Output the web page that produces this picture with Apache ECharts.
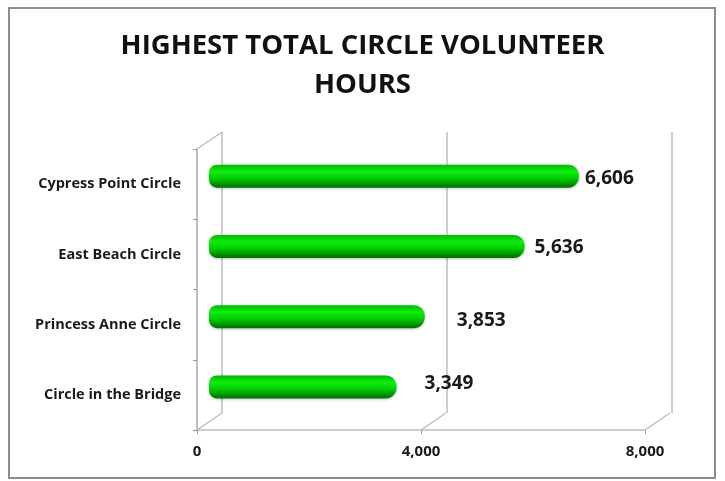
<!DOCTYPE html>
<html>
<head>
<meta charset="utf-8">
<script src="https://cdn.jsdelivr.net/npm/echarts@6/dist/echarts.min.js"></script>
<style>
    html, body { margin: 0; padding: 0; background: #fff; }
    #chart { width: 725px; height: 481px; }
</style>
</head>
<body>
<div id="chart"></div>
<script>
// data
var categories = ['Cypress Point Circle', 'East Beach Circle', 'Princess Anne Circle', 'Circle in the Bridge'];
var hours = [6606, 5636, 3853, 3349];
var tickValues = [0, 4000, 8000];

// label nudges so the numbers sit where the original put them
var labelShift = [[0, 2], [4, 1], [26, 4], [22, -3]];

var fontName = "'Open Sans', 'Noto Sans', sans-serif";
var gray = '#bdbdbd';

// front plane, bar plane (mid depth) and back wall
var front = { left: 197, top: 149, width: 448, height: 281 };
var depth = { dx: 25, dy: -17 };
var mid = { left: front.left + 12, top: front.top - 8, width: 448, height: 281 };
var back = { left: front.left + depth.dx, top: front.top + depth.dy, width: 450, height: 281 };

var chartDom = document.getElementById('chart');
var myChart = echarts.init(chartDom);

var barColor = new echarts.graphic.LinearGradient(0, 0, 0, 1, [
    { offset: 0, color: '#00b800' },
    { offset: 0.3, color: '#10ec10' },
    { offset: 0.6, color: '#00cc00' },
    { offset: 1, color: '#006e00' }
]);

// diagonal edges of the 3d box
function depthLine(x, y) {
    return {
        type: 'line',
        shape: { x1: x, y1: y, x2: x + depth.dx, y2: y + depth.dy },
        style: { stroke: gray, lineWidth: 1.5 },
        z: 1
    };
}
var fy = front.top + front.height;
var graphics = [
    {
        type: 'rect',
        shape: { x: 9, y: 8, width: 706, height: 470 },
        style: { fill: 'none', stroke: '#8c8c8c', lineWidth: 2 }
    },
    depthLine(front.left, front.top),
    depthLine(front.left, fy),
    depthLine(front.left + front.width / 2, fy),
    depthLine(front.left + front.width, fy)
];

var option = {
    animation: false,
    backgroundColor: '#fff',
    title: {
        text: 'HIGHEST TOTAL CIRCLE VOLUNTEER\nHOURS',
        left: 'center',
        top: 22,
        textStyle: {
            fontFamily: fontName,
            fontSize: 27.5,
            fontWeight: 'bold',
            color: '#111',
            lineHeight: 39
        }
    },
    graphic: graphics,
    grid: [
        Object.assign({}, back),
        Object.assign({}, mid),
        Object.assign({}, front)
    ],
    xAxis: [
        {
            gridIndex: 0, type: 'value', min: 0, max: 8000, interval: 4000,
            axisLine: { show: false }, axisTick: { show: false }, axisLabel: { show: false },
            splitLine: { show: true, lineStyle: { color: gray, width: 1.5 } }
        },
        {
            gridIndex: 1, type: 'value', min: 0, max: 8000, interval: 4000,
            show: false
        },
        {
            gridIndex: 2, type: 'value', min: tickValues[0], max: tickValues[2], interval: tickValues[1],
            axisLine: { show: true, lineStyle: { color: gray, width: 1.5 } },
            axisTick: { show: true, length: 4, lineStyle: { color: '#999' } },
            splitLine: { show: false },
            axisLabel: {
                margin: 14,
                fontFamily: fontName, fontSize: 15, fontWeight: 'bold', color: '#1a1a1a',
                formatter: function (v) { return v.toLocaleString('en-US'); }
            }
        }
    ],
    yAxis: [
        {
            gridIndex: 0, type: 'category', data: categories, inverse: true, show: false
        },
        {
            gridIndex: 1, type: 'category', data: categories, inverse: true, show: false
        },
        {
            gridIndex: 2, type: 'category', data: categories, inverse: true,
            axisLine: { show: true, lineStyle: { color: '#a8a8a8', width: 1.5 } },
            axisTick: { show: true, length: 4, lineStyle: { color: '#999' } },
            axisLabel: {
                margin: 16,
                padding: [6, 0, 0, 0],
                fontFamily: fontName, fontSize: 14.5, fontWeight: 'bold', color: '#1a1a1a'
            }
        }
    ],
    series: [
        {
            name: 'Hours',
            type: 'bar',
            xAxisIndex: 1,
            yAxisIndex: 1,
            barWidth: 23,
            data: hours.map(function (v, i) {
                return {
                    value: v,
                    label: { offset: labelShift[i] }
                };
            }),
            itemStyle: {
                color: barColor,
                borderRadius: [8, 11, 11, 8],
                shadowColor: 'rgba(0,0,0,0.25)',
                shadowBlur: 3,
                shadowOffsetY: 1
            },
            label: {
                show: true,
                position: 'right',
                distance: 6,
                fontFamily: fontName,
                fontSize: 19,
                fontWeight: 'bold',
                color: '#1a1a1a',
                formatter: function (p) { return p.value.toLocaleString('en-US'); }
            },
            z: 5
        }
    ]
};

myChart.setOption(option);

window.addEventListener('resize', function () {
    myChart.resize();
});
</script>
</body>
</html>
